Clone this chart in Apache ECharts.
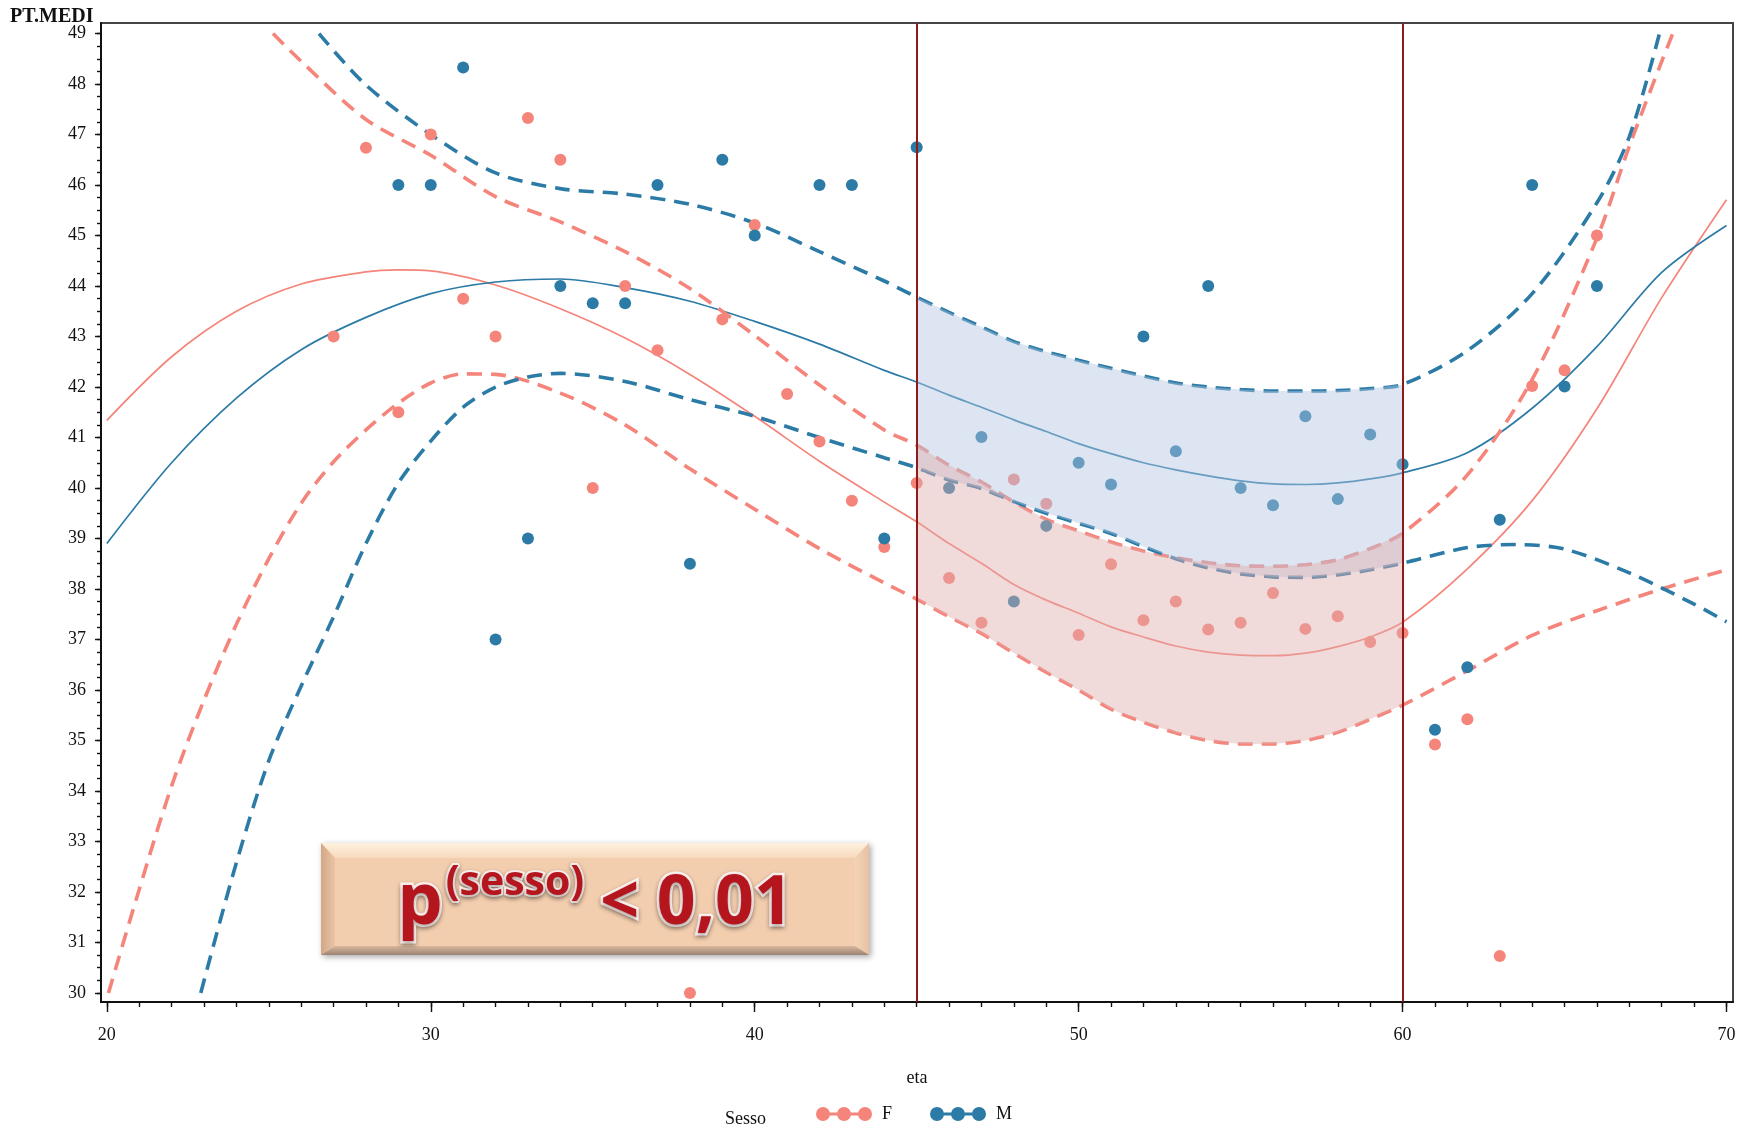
<!DOCTYPE html>
<html>
<head>
<meta charset="utf-8">
<script src="https://cdn.jsdelivr.net/npm/echarts@6/dist/echarts.min.js"></script>
<style>
html,body{margin:0;padding:0;background:#fff;}
#chart{width:1755px;height:1128px;}
</style>
</head>
<body>
<div id="chart"></div>
<script>
// ---------- DATA ----------
const AGE_F = [27,28,29,30,31,32,33,34,35,36,37,38,39,40,41,42,43,44,45,46,47,48,49,50,51,52,53,54,55,56,57,58,59,60,61,62,63,64,65,66];
const PT_F  = [43.0,46.74,41.5,47.0,43.75,43.0,47.33,46.5,40.0,44.0,42.73,30.0,43.34,45.21,41.86,40.92,39.75,38.83,40.1,38.22,37.33,40.17,39.69,37.09,38.49,37.38,37.75,37.2,37.33,37.92,37.21,37.46,36.95,37.13,34.92,35.42,30.73,42.02,42.33,45.0];

const AGE_M = [29,30,31,32,33,34,35,36,37,38,39,40,42,43,44,45,46,47,48,49,50,51,52,53,54,55,56,57,58,59,60,61,62,63,64,65,66];
const PT_M  = [46.0,46.0,48.33,37.0,39.0,44.0,43.66,43.66,46.0,38.5,46.5,45.0,46.0,46.0,39.0,46.75,40.0,41.01,37.75,39.25,40.5,40.07,43.0,40.73,44.0,40.0,39.66,41.42,39.78,41.06,40.47,35.21,36.45,39.37,46.0,42.01,44.0];

// fitted curves (solid)
const F_FIT_X = [20,22,24,26,28,29,30,32,34,36,38,40,42,44,45,46,47,48,49,50,51,52,53,54,55,56,57,58,59,60,62,64,66,68,70];
const F_FIT_Y = [41.34,42.6,43.5,44.04,44.28,44.32,44.3,44.02,43.55,42.97,42.25,41.42,40.53,39.72,39.33,38.9,38.51,38.09,37.78,37.52,37.25,37.05,36.87,36.75,36.69,36.68,36.73,36.86,37.05,37.34,38.4,39.75,41.57,43.77,45.71];
const M_FIT_X = [20,22,24,26,28,30,32,34,36,38,40,42,44,45,46,47,48,49,50,51,52,53,54,55,56,57,58,59,60,62,64,66,68,70];
const M_FIT_Y = [38.9,40.5,41.78,42.74,43.38,43.85,44.08,44.14,43.97,43.7,43.3,42.85,42.33,42.1,41.84,41.6,41.35,41.12,40.88,40.68,40.5,40.36,40.24,40.14,40.08,40.07,40.1,40.18,40.3,40.7,41.58,42.8,44.27,45.2];

// confidence limits (dashed)
const F_UP_X = [25.13,26,28,30,32,34,36,38,40,42,44,45,46,47,48,49,50,51,52,53,54,55,56,57,58,59,60,62,64,66,67,68,68.34];
const F_UP_Y = [49.0,48.45,47.3,46.59,45.77,45.27,44.68,43.95,43.02,42.04,41.15,40.85,40.45,40.12,39.72,39.38,39.15,38.93,38.75,38.62,38.52,38.46,38.45,38.48,38.58,38.8,39.1,40.26,42.15,44.95,46.77,48.45,49.0];
const F_LO_X = [20.05,21,22,23,24,25,26,27,28,29,30,31,32,34,36,38,40,42,44,45,46,47,48,49,50,51,52,53,54,55,56,57,58,59,60,62,64,66,68,70];
const F_LO_Y = [30.0,32.05,34.1,35.8,37.3,38.6,39.7,40.52,41.15,41.68,42.08,42.26,42.25,41.88,41.25,40.38,39.58,38.8,38.12,37.8,37.45,37.12,36.73,36.35,36.0,35.62,35.36,35.15,35.0,34.93,34.93,35.0,35.16,35.42,35.7,36.38,37.08,37.57,38.0,38.38];
const M_UP_X = [26.55,28,30,32,34,36,38,40,42,44,45,46,47,48,49,50,51,52,53,54,55,56,57,58,59,60,62,64,66,67,67.93];
const M_UP_Y = [49.0,47.98,47.0,46.24,45.93,45.82,45.62,45.25,44.68,44.1,43.78,43.48,43.19,42.9,42.7,42.53,42.37,42.22,42.08,42.0,41.95,41.92,41.92,41.93,41.97,42.05,42.72,43.85,45.65,46.96,49.0];
const M_LO_X = [22.9,24,25,26,27,28,29,30,31,32,33,34,36,38,40,42,44,45,46,47,48,49,50,51,52,53,54,55,56,57,58,59,60,62,63.5,65,67,69,70];
const M_LO_Y = [30.0,32.58,34.6,36.08,37.45,38.9,40.1,40.93,41.6,42.0,42.2,42.27,42.11,41.75,41.42,41.0,40.6,40.4,40.16,39.99,39.73,39.5,39.3,39.1,38.84,38.6,38.42,38.3,38.24,38.23,38.28,38.38,38.51,38.82,38.88,38.79,38.32,37.7,37.35];

// reference lines & shaded interval
const REF_AGES = [45, 60];
const BAND_FROM = 45, BAND_TO = 60;

// tick labels
const X_LABELS = [20,30,40,50,60,70];
const Y_LABELS = [30,31,32,33,34,35,36,37,38,39,40,41,42,43,44,45,46,47,48,49];
const X_MINOR = []; for (let v = 20; v <= 70; v++) X_MINOR.push(v);
const Y_MINOR = []; for (let v = 30; v <= 49.001; v += 0.25) Y_MINOR.push(+v.toFixed(2));

// ---------- STYLE ----------
const COL_F = '#F5847A';
const COL_M = '#2C7BA6';
const BAND_F = 'rgba(224,173,173,0.45)';
const BAND_M = 'rgba(177,197,224,0.45)';
const SERIF = "'Liberation Serif','DejaVu Serif',serif";

const zip = (xs, ys) => xs.map((x, i) => [x, ys[i]]);

function curve(name, xs, ys, color, dashed) {
  return {
    type: 'line', name: name, data: zip(xs, ys), smooth: 0.3,
    symbol: 'none', showSymbol: false, silent: true, z: 2,
    lineStyle: dashed ? { color: color, width: 3.6, type: [15, 9], opacity: 1 } : { color: color, width: 1.7, opacity: 1 }
  };
}
function band(name, ux, uy, lx, ly, fill) {
  return {
    type: 'custom', name: name, silent: true, z: 4,
    data: [[BAND_FROM, uy[0]]],
    renderItem: function (params, api) {
      const pts = [];
      for (let i = 0; i < ux.length; i++) if (ux[i] >= BAND_FROM && ux[i] <= BAND_TO) pts.push(api.coord([ux[i], uy[i]]));
      for (let i = lx.length - 1; i >= 0; i--) if (lx[i] >= BAND_FROM && lx[i] <= BAND_TO) pts.push(api.coord([lx[i], ly[i]]));
      return { type: 'polygon', shape: { points: pts }, style: { fill: fill } };
    }
  };
}

const XMIN = 19.82, XMAX = 70.2, YMIN = 29.82, YMAX = 49.21;
const tickLine = { color: '#111', width: 1.4 };
const labelStyle = { fontFamily: SERIF, fontSize: 18, color: '#111' };

const LEGEND_ICON = 'path://M0,7A7,7,0,1,1,14,7A7,7,0,1,1,0,7Z M21,7A7,7,0,1,1,35,7A7,7,0,1,1,21,7Z M42,7A7,7,0,1,1,56,7A7,7,0,1,1,42,7Z M7,5.6L49,5.6L49,8.4L7,8.4Z';

const chart = echarts.init(document.getElementById('chart'), null, { renderer: 'canvas' });
const option = {
  animation: false,
  backgroundColor: '#ffffff',
  grid: { left: 101, top: 23, width: 1632, height: 979, show: true, borderColor: '#444', borderWidth: 2, backgroundColor: '#fff', outerBoundsMode: 'none' },
  xAxis: [
    { type: 'value', min: XMIN, max: XMAX, position: 'bottom',
      axisLine: { show: true, onZero: false, lineStyle: { color: '#111', width: 2 } },
      axisTick: { show: true, customValues: X_LABELS, length: 10, lineStyle: tickLine },
      axisLabel: Object.assign({ customValues: X_LABELS, margin: 24 }, labelStyle),
      splitLine: { show: false } },
    { type: 'value', min: XMIN, max: XMAX, position: 'bottom',
      axisLine: { show: false, onZero: false },
      axisTick: { show: true, customValues: X_MINOR, length: 5, lineStyle: tickLine },
      axisLabel: { show: false }, splitLine: { show: false } }
  ],
  yAxis: [
    { type: 'value', min: YMIN, max: YMAX, position: 'left',
      axisLine: { show: true, onZero: false, lineStyle: { color: '#111', width: 2 } },
      axisTick: { show: true, customValues: Y_LABELS, length: 6, lineStyle: tickLine },
      axisLabel: Object.assign({ customValues: Y_LABELS, margin: 15 }, labelStyle),
      splitLine: { show: false } },
    { type: 'value', min: YMIN, max: YMAX, position: 'left',
      axisLine: { show: false, onZero: false },
      axisTick: { show: true, customValues: Y_MINOR, length: 4, lineStyle: tickLine },
      axisLabel: { show: false }, splitLine: { show: false } }
  ],
  legend: {
    data: ['F', 'M'], left: 811, top: 1100, itemWidth: 56, itemHeight: 14, itemGap: 38,
    icon: LEGEND_ICON, selectedMode: false,
    textStyle: { fontFamily: SERIF, fontSize: 18, color: '#111', padding: [0, 0, 0, 5] }
  },
  series: [
    curve('F fit', F_FIT_X, F_FIT_Y, COL_F, false),
    curve('M fit', M_FIT_X, M_FIT_Y, COL_M, false),
    curve('F upper', F_UP_X, F_UP_Y, COL_F, true),
    curve('F lower', F_LO_X, F_LO_Y, COL_F, true),
    curve('M upper', M_UP_X, M_UP_Y, COL_M, true),
    curve('M lower', M_LO_X, M_LO_Y, COL_M, true),
    { type: 'scatter', name: 'F', data: zip(AGE_F, PT_F), symbol: 'circle', symbolSize: 12, z: 3, silent: true,
      itemStyle: { color: COL_F, opacity: 1 } },
    { type: 'scatter', name: 'M', data: zip(AGE_M, PT_M), symbol: 'circle', symbolSize: 12, z: 3, silent: true,
      itemStyle: { color: COL_M, opacity: 1 } },
    band('M band', M_UP_X, M_UP_Y, M_LO_X, M_LO_Y, BAND_M),
    band('F band', F_UP_X, F_UP_Y, F_LO_X, F_LO_Y, BAND_F),
    { type: 'line', name: 'ref', data: [], z: 5, silent: true,
      markLine: { silent: true, symbol: 'none', label: { show: false },
        lineStyle: { color: '#8E1A1A', width: 2, type: 'solid' },
        data: REF_AGES.map(v => ({ xAxis: v })) } }
  ],
  graphic: [
    { type: 'text', left: 10, top: 7, z: 20,
      style: { text: 'PT.MEDI', font: "bold 20px 'Liberation Serif'", fill: '#111' } },
    { type: 'text', x: 917, y: 1078, z: 20,
      style: { text: 'eta', font: "18px 'Liberation Serif'", fill: '#111', align: 'center', verticalAlign: 'middle', textAlign: 'center', textVerticalAlign: 'middle' } },
    { type: 'text', x: 725, y: 1119, z: 20,
      style: { text: 'Sesso', font: "18px 'Liberation Serif'", fill: '#111', align: 'left', verticalAlign: 'middle', textAlign: 'left', textVerticalAlign: 'middle' } },
    { type: 'group', x: 321, y: 843, z: 30, children: [
      { type: 'rect', shape: { x: 0, y: 0, width: 548, height: 112 },
        style: { fill: '#F2CDAE', shadowBlur: 6, shadowColor: 'rgba(0,0,0,0.35)', shadowOffsetX: 2, shadowOffsetY: 2 } },
      { type: 'polygon', shape: { points: [[0,0],[548,0],[534,15],[14,15]] },
        style: { fill: new echarts.graphic.LinearGradient(0,0,0,1,[{offset:0,color:'#FEF2DF'},{offset:1,color:'#F6D9BC'}]) } },
      { type: 'polygon', shape: { points: [[0,0],[14,15],[14,103],[0,112]] },
        style: { fill: new echarts.graphic.LinearGradient(0,0,1,0,[{offset:0,color:'#D2A887'},{offset:1,color:'#E9C4A4'}]) } },
      { type: 'polygon', shape: { points: [[548,0],[548,112],[534,103],[534,15]] },
        style: { fill: new echarts.graphic.LinearGradient(0,0,1,0,[{offset:0,color:'#F4D4B6'},{offset:1,color:'#E7C2A2'}]) } },
      { type: 'polygon', shape: { points: [[0,112],[14,103],[534,103],[548,112]] },
        style: { fill: new echarts.graphic.LinearGradient(0,0,0,1,[{offset:0,color:'#D8B89D'},{offset:1,color:'#9C8374'}]) } },
      { type: 'text', x: 274, y: 58,
        style: {
          text: '{p|p}{s|(sesso)}{m|< 0,01}',
          align: 'center', verticalAlign: 'middle', textAlign: 'center', textVerticalAlign: 'middle',
          rich: {
            p: { fontFamily: 'Open Sans', fontWeight: 'bold', fontSize: 72, lineHeight: 76, verticalAlign: 'bottom',
                 fill: '#B5161D', stroke: '#FFF3F0', lineWidth: 5, textShadowColor: 'rgba(0,0,0,0.35)', textShadowBlur: 4, textShadowOffsetY: 2 },
            s: { fontFamily: 'Open Sans', fontWeight: 'bold', fontSize: 41, lineHeight: 46, verticalAlign: 'top', padding: [0, 16, 0, 3],
                 fill: '#B5161D', stroke: '#FFF3F0', lineWidth: 4, textShadowColor: 'rgba(0,0,0,0.35)', textShadowBlur: 4, textShadowOffsetY: 2 },
            m: { fontFamily: 'Open Sans', fontWeight: 'bold', fontSize: 68, lineHeight: 76, verticalAlign: 'bottom',
                 fill: '#B5161D', stroke: '#FFF3F0', lineWidth: 5, textShadowColor: 'rgba(0,0,0,0.35)', textShadowBlur: 4, textShadowOffsetY: 2 }
          }
        } }
    ] }
  ]
};
chart.setOption(option);
</script>
</body>
</html>
